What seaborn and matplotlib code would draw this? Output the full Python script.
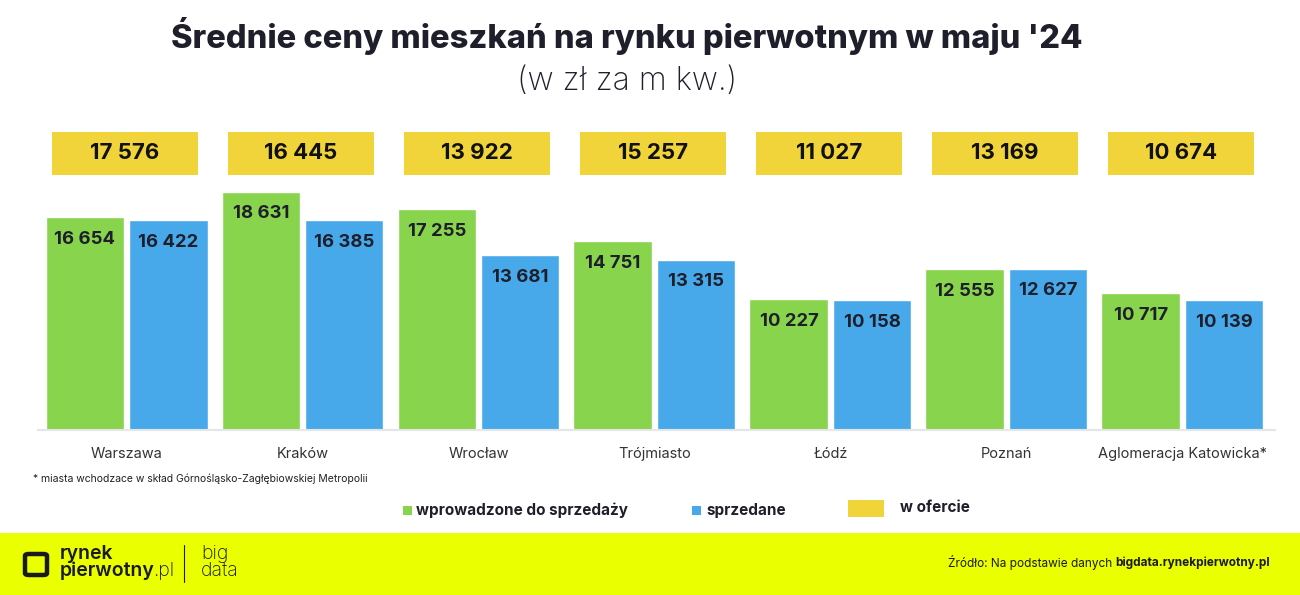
import numpy as np
import pandas as pd
import matplotlib.pyplot as plt
import seaborn as sns
from matplotlib.patches import Rectangle, FancyBboxPatch
from matplotlib.transforms import blended_transform_factory

# data
cities = ['Warszawa', 'Kraków', 'Wrocław', 'Trójmiasto', 'Łódź', 'Poznań', 'Aglomeracja Katowicka*']
introduced = [16654, 18631, 17255, 14751, 10227, 12555, 10717]
sold = [16422, 16385, 13681, 13315, 10158, 12627, 10139]
offer = [17576, 16445, 13922, 15257, 11027, 13169, 10674]
series_names = ['wprowadzone do sprzedaży', 'sprzedane']

GREEN = '#88D44C'
BLUE = '#48A9EA'
YELLOW = '#F1D43A'
LIME = '#EAFF00'
DARK = '#1E1F2B'

def fmt(v):
    return f'{v:,}'.replace(',', ' ')

df = pd.DataFrame({
    'miasto': cities * 2,
    'seria': [series_names[0]] * len(cities) + [series_names[1]] * len(cities),
    'cena': introduced + sold,
})

sns.set_theme(style='white')
plt.rcParams['font.family'] = ['Inter', 'DejaVu Sans']

W, H = 1300, 595
fig = plt.figure(figsize=(13, 5.95), dpi=100)

# main axes: baseline at y=430px, top at y=120px
ax = fig.add_axes([38 / W, (H - 430) / H, (1275 - 38) / W, 310 / H])
sns.barplot(data=df, x='miasto', y='cena', hue='seria', order=cities,
            hue_order=series_names, palette=[GREEN, BLUE], width=0.944,
            gap=0.05, saturation=1, ax=ax, legend=False)

px_per_unit = 213 / 16654
ax.set_ylim(0, 310 / px_per_unit)
ax.set_xlim(-0.503, 6.526)
for s in ['top', 'right', 'left']:
    ax.spines[s].set_visible(False)
ax.spines['bottom'].set_color('#E4E6EA')
ax.spines['bottom'].set_linewidth(1.5)
ax.set_yticks([])
ax.set_ylabel('')
ax.set_xlabel('')
ax.tick_params(axis='x', length=0, pad=12, labelsize=10.5, labelcolor='#333333')

# values inside bars
for container in ax.containers:
    for bar in container:
        h = bar.get_height()
        ax.annotate(fmt(int(round(h))), (bar.get_x() + bar.get_width() / 2, h),
                    xytext=(0, -16), textcoords='offset points', ha='center',
                    va='center', fontsize=13.3, fontweight='bold', color=DARK)

# "w ofercie" boxes
trans = blended_transform_factory(ax.transData, ax.transAxes)
box_w = 0.83
for i, v in enumerate(offer):
    ax.add_patch(Rectangle((i - 0.01 - box_w / 2, (430 - 175) / 310), box_w, 43 / 310,
                           transform=trans, color=YELLOW, clip_on=False, lw=0))
    ax.text(i - 0.01, (430 - 153.5) / 310, fmt(v), transform=trans, ha='center',
            va='center', fontsize=16, fontweight='bold', color='#111111')

# titles
fig.text(627 / W, 1 - 36 / H, "Średnie ceny mieszkań na rynku pierwotnym w maju '24",
         ha='center', va='center', fontsize=23.5, fontweight='heavy', color=DARK)
fig.text(627 / W, 1 - 82 / H, '(w zł za m kw.)', ha='center', va='center',
         fontsize=23, fontweight='light', color=DARK)

# footnote
fig.text(33 / W, 1 - 479 / H, '* miasta wchodzace w skład Górnośląsko-Zagłębiowskiej Metropolii',
         ha='left', va='center', fontsize=7.5, color='#222222')

# legend
fig.patches.append(Rectangle((403 / W, 1 - 515 / H), 9 / W, 9 / H, transform=fig.transFigure,
                             color=GREEN, lw=0))
fig.text(416 / W, 1 - 510 / H, series_names[0], ha='left', va='center', fontsize=11,
         fontweight='bold', color=DARK)
fig.patches.append(Rectangle((692 / W, 1 - 515 / H), 9 / W, 9 / H, transform=fig.transFigure,
                             color=BLUE, lw=0))
fig.text(706 / W, 1 - 510 / H, series_names[1], ha='left', va='center', fontsize=11,
         fontweight='bold', color=DARK)
fig.patches.append(Rectangle((848 / W, 1 - 517 / H), 36 / W, 17 / H, transform=fig.transFigure,
                             color=YELLOW, lw=0))
fig.text(900 / W, 1 - 508 / H, 'w ofercie', ha='left', va='center', fontsize=11,
         fontweight='bold', color=DARK)

# bottom band
fig.patches.append(Rectangle((0, 0), 1, (H - 533) / H, transform=fig.transFigure,
                             color=LIME, lw=0, zorder=0))
fig.patches.append(FancyBboxPatch((25 / W, 1 - 575 / H), 22 / W, 21 / H,
                                  boxstyle='round,pad=0,rounding_size=0.003',
                                  transform=fig.transFigure, fill=False,
                                  ec='#1A1A1A', lw=3.2))
fig.text(60 / W, 1 - 554 / H, 'rynek', ha='left', va='center', fontsize=14,
         fontweight='semibold', color='#1A1A1A')
pw = fig.text(60 / W, 1 - 571 / H, 'pierwotny', ha='left', va='center', fontsize=14,
              fontweight='semibold', color='#1A1A1A')
fig.canvas.draw()
pb = pw.get_window_extent()
fig.text((pb.x1 - 2) / W, 1 - 571 / H, '.pl', ha='left', va='center', fontsize=14,
         fontweight='light', color='#1A1A1A')
fig.add_artist(plt.Line2D([184 / W, 184 / W], [1 - 582 / H, 1 - 545 / H],
                          transform=fig.transFigure, color='#1A1A1A', lw=0.8))
fig.text(201 / W, 1 - 554 / H, 'big', ha='left', va='center', fontsize=14,
         fontweight='light', color='#1A1A1A')
fig.text(201 / W, 1 - 571 / H, 'data', ha='left', va='center', fontsize=14,
         fontweight='light', color='#1A1A1A')

src = fig.text(1270 / W, 1 - 563 / H, 'bigdata.rynekpierwotny.pl', ha='right', va='center',
               fontsize=8.5, fontweight='bold', color='#1A1A1A')
fig.canvas.draw()
bb = src.get_window_extent()
fig.text(bb.x0 / W, 1 - 563 / H, 'Źródło: Na podstawie danych ', ha='right', va='center',
         fontsize=8.5, color='#1A1A1A')

fig.savefig('out.png', dpi=100, facecolor='white')
